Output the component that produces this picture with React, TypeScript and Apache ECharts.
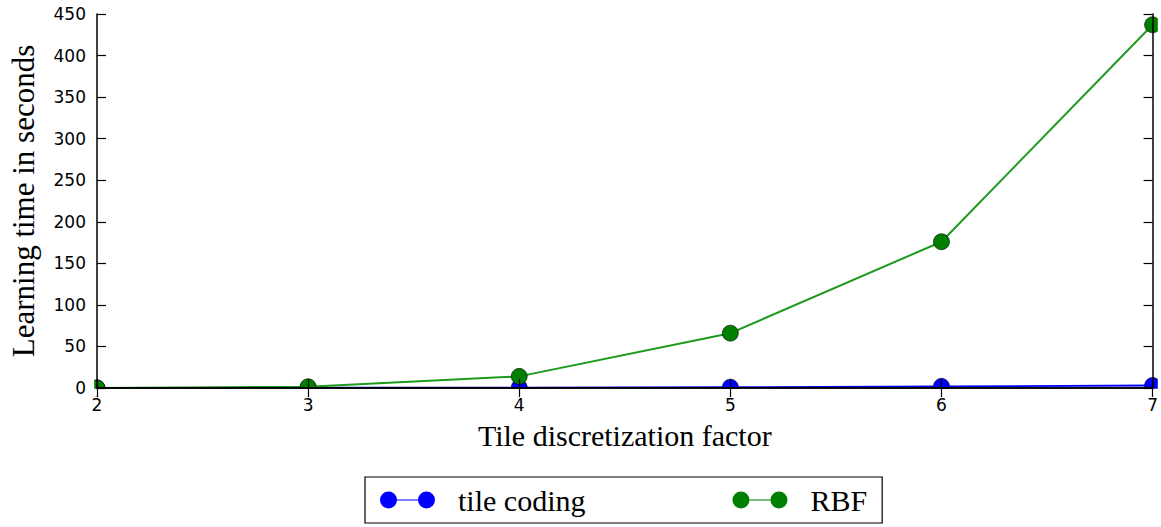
import React, { useEffect, useRef } from "react";
import * as echarts from "echarts";

// Learning time (seconds) per tile discretization factor
const factors = [2, 3, 4, 5, 6, 7];
const tileCoding = [0.1, 0.3, 0.5, 1, 2, 3];
const rbf = [0, 1.5, 14, 66, 176, 437];
const yTicks = { min: 0, max: 450, interval: 50 };
const xTicks = { min: 2, max: 7, interval: 1 };

const SERIF = "'Liberation Serif', 'DejaVu Serif', serif";
const SANS = "'DejaVu Sans', sans-serif";

// legend glyph: two markers joined by a short line
const pairIcon =
  "path://M0,8.5a8.5,8.5 0 1,0 17,0a8.5,8.5 0 1,0 -17,0zM17,7.9h21v1.2h-21zM38,8.5a8.5,8.5 0 1,0 17,0a8.5,8.5 0 1,0 -17,0z";

const GRID = { left: 95, right: 4, top: 14, bottom: 139 };
const W = 1161;
const H = 527;

export default function App() {
  const ref = useRef<HTMLDivElement>(null);

  useEffect(() => {
    if (!ref.current) return;
    const chart = echarts.init(ref.current, null, { renderer: "svg" });

    const frameAxisLine = { show: true, lineStyle: { color: "#000", width: 1.5 } };
    const innerTicks = { show: true, inside: true, length: 9, lineStyle: { color: "#000", width: 1.2 } };

    const plotBottom = H - GRID.bottom;
    const plotRight = W - GRID.right;

    // white bands just outside the plot frame so markers are cut at the axes
    const mask = (x: number, y: number, w: number, h: number) => ({
      type: "rect",
      shape: { x, y, width: w, height: h },
      style: { fill: "#fff" },
      z: 100,
      silent: true,
    });

    chart.setOption({
      animation: false,
      backgroundColor: "#fff",
      grid: { ...GRID, containLabel: false },
      xAxis: [
        {
          type: "value",
          ...xTicks,
          axisLine: frameAxisLine,
          axisTick: innerTicks,
          splitLine: { show: false },
          axisLabel: { color: "#000", fontFamily: SANS, fontSize: 17, margin: 8 },
          name: "Tile discretization factor",
          nameLocation: "middle",
          nameGap: 32,
          nameTextStyle: { color: "#000", fontFamily: SERIF, fontSize: 30 },
          z: 110,
        },
        {
          type: "value",
          position: "top",
          ...xTicks,
          axisLine: frameAxisLine,
          axisTick: innerTicks,
          splitLine: { show: false },
          axisLabel: { show: false },
          z: 110,
        },
      ],
      yAxis: [
        {
          type: "value",
          ...yTicks,
          axisLine: frameAxisLine,
          axisTick: innerTicks,
          splitLine: { show: false },
          axisLabel: { color: "#000", fontFamily: SANS, fontSize: 17, margin: 11 },
          name: "Learning time in seconds",
          nameLocation: "middle",
          nameGap: 58,
          nameTextStyle: { color: "#000", fontFamily: SERIF, fontSize: 31 },
          z: 110,
        },
        {
          type: "value",
          position: "right",
          ...yTicks,
          axisLine: frameAxisLine,
          axisTick: innerTicks,
          splitLine: { show: false },
          axisLabel: { show: false },
          z: 110,
        },
      ],
      legend: {
        left: 365,
        top: 477,
        orient: "horizontal",
        icon: pairIcon,
        itemWidth: 55,
        itemHeight: 17,
        itemGap: 147,
        padding: [8, 15, 8, 15],
        borderColor: "#000",
        borderWidth: 1.2,
        itemStyle: { borderWidth: 0 },
        textStyle: {
          color: "#000",
          fontFamily: SERIF,
          fontSize: 30,
          lineHeight: 30,
          padding: [0, 0, 0, 18],
        },
        data: ["tile coding", "RBF"],
      },
      graphic: [
        mask(GRID.left - 10, 0, 9.2, plotBottom + 8),
        mask(GRID.left - 10, plotBottom + 0.8, plotRight - GRID.left + 20, 7.5),
        mask(plotRight + 0.8, 0, 10, plotBottom + 8),
      ],
      series: [
        {
          name: "tile coding",
          type: "line",
          data: factors.map((f, i) => [f, tileCoding[i]]),
          symbol: "circle",
          symbolSize: 16,
          lineStyle: { color: "#0000ff", width: 1.8 },
          itemStyle: { color: "#0000ff", borderColor: "#000", borderWidth: 0.6 },
          z: 3,
        },
        {
          name: "RBF",
          type: "line",
          data: factors.map((f, i) => [f, rbf[i]]),
          symbol: "circle",
          symbolSize: 16,
          lineStyle: { color: "#1c9a1c", width: 2 },
          itemStyle: { color: "#007f00", borderColor: "#000", borderWidth: 0.6 },
          z: 4,
        },
      ],
    });

    return () => chart.dispose();
  }, []);

  return (
    <div
      ref={ref}
      style={{ position: "fixed", left: 0, top: 0, width: W, height: H }}
    />
  );
}
